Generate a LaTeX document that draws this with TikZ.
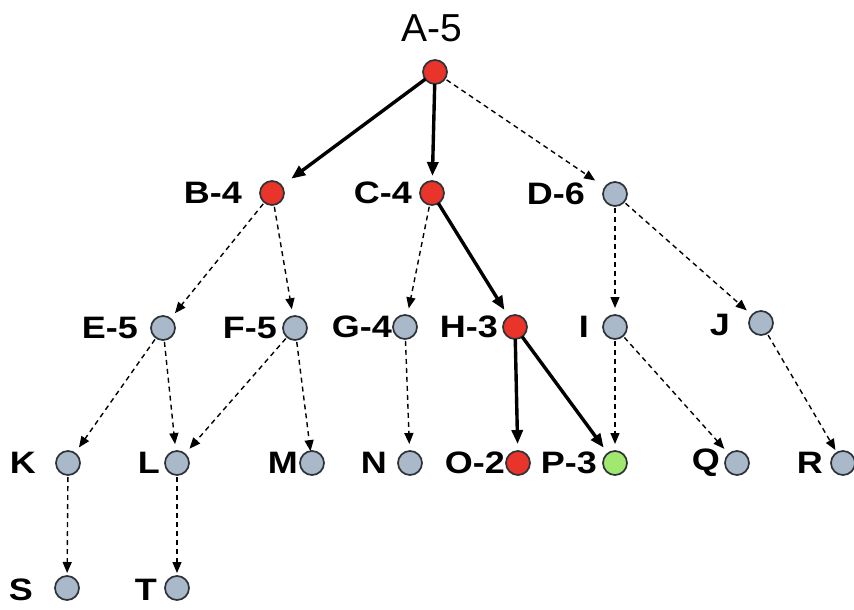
\documentclass[tikz,border=0pt]{standalone}
\usepackage{fontspec}
\setmainfont{Liberation Sans}
\newfontfamily\lblfont[FakeStretch=1.16]{Liberation Sans}
\usetikzlibrary{arrows.meta}
\definecolor{redfill}{RGB}{232,52,42}
\definecolor{greyfill}{RGB}{170,185,202}
\definecolor{greenfill}{RGB}{160,232,112}
\definecolor{rim}{RGB}{45,50,55}
\begin{document}
\begin{tikzpicture}[x=1pt,y=-1pt,
  vtx/.style={circle,draw=rim,line width=1.7pt,minimum size=24pt,inner sep=0pt,outer sep=0pt},
  onpath/.style={vtx,fill=redfill},
  open/.style={vtx,fill=greyfill},
  goal/.style={vtx,fill=greenfill},
  lbl/.style={anchor=east,inner sep=0pt,font=\lblfont\bfseries\fontsize{31}{31}\selectfont},
  best/.style={line width=3.4pt,-{Triangle[length=14pt,width=11pt]},shorten >=7pt},
  other/.style={line width=1.4pt,dash pattern=on 5pt off 4pt,-{Triangle[length=11pt,width=9pt]},shorten >=7pt,shorten <=2pt}]
\useasboundingbox (0,0) rectangle (854,610);

% search tree vertices
\node[onpath] (A) at (435,72) {};
\node[onpath] (B) at (272,193) {};
\node[onpath] (C) at (432,193) {};
\node[open]   (D) at (615,194) {};
\node[open]   (E) at (163,328) {};
\node[open]   (F) at (295,328) {};
\node[open]   (G) at (405,327) {};
\node[onpath] (H) at (515,327) {};
\node[open]   (I) at (615,327) {};
\node[open]   (J) at (761,323) {};
\node[open]   (K) at (68,463) {};
\node[open]   (L) at (177,463) {};
\node[open]   (M) at (312,463) {};
\node[open]   (N) at (410,463) {};
\node[onpath] (O) at (518,463) {};
\node[goal]   (P) at (615,463) {};
\node[open]   (Q) at (737,463) {};
\node[open]   (R) at (843,463) {};
\node[open]   (S) at (67,588) {};
\node[open]   (T) at (177,588) {};

% vertex names with cost estimates
\node[font=\fontsize{39}{39}\selectfont,inner sep=0pt] (lA) at (432,28) {A-5};
\node[lbl] (lB) at (242,193) {B-4};
\node[lbl] (lC) at (412,193) {C-4};
\node[lbl] (lD) at (585,194) {D-6};
\node[lbl] (lE) at (138,328) {E-5};
\node[lbl] (lF) at (277,328) {F-5};
\node[lbl] (lG) at (392,327) {G-4};
\node[lbl] (lH) at (498,327) {H-3};
\node[lbl] (lI) at (589,327) {I};
\node[lbl] (lJ) at (730,325) {J};
\node[lbl] (lK) at (36,463) {K};
\node[lbl] (lL) at (160,463) {L};
\node[lbl] (lM) at (298,463) {M};
\node[lbl] (lN) at (387,463) {N};
\node[lbl] (lO) at (505,463) {O-2};
\node[lbl] (lP) at (597,463) {P-3};
\node[lbl] (lQ) at (720,463) {Q};
\node[lbl] (lR) at (823,463) {R};
\node[lbl] (lS) at (33,590) {S};
\node[lbl] (lT) at (157,590) {T};

% chosen path
\draw[best,shorten >=12pt] (A) -- (B);
\draw[best,shorten >=5pt] (A) -- (C);
\draw[best,shorten >=8pt] (C) -- (H);
\draw[best] (H) -- (O);
\draw[best] (H) -- (P);

% remaining expansions
\draw[other,shorten >=12pt] (A) -- (D);
\draw[other] (B) -- (E);
\draw[other] (B) -- (F);
\draw[other] (C) -- (G);
\draw[other] (D) -- (I);
\draw[other] (D) -- (J);
\draw[other] (E) -- (K);
\draw[other] (E) -- (L);
\draw[other] (F) -- (L);
\draw[other,shorten >=0pt] (F) -- (M);
\draw[other] (G) -- (N);
\draw[other] (I) -- (P);
\draw[other] (I) -- (Q);
\draw[other,shorten >=3pt] (J) -- (R);
\draw[other,shorten >=3pt] (K) -- (S);
\draw[other,shorten >=3pt] (L) -- (T);
\end{tikzpicture}
\end{document}
